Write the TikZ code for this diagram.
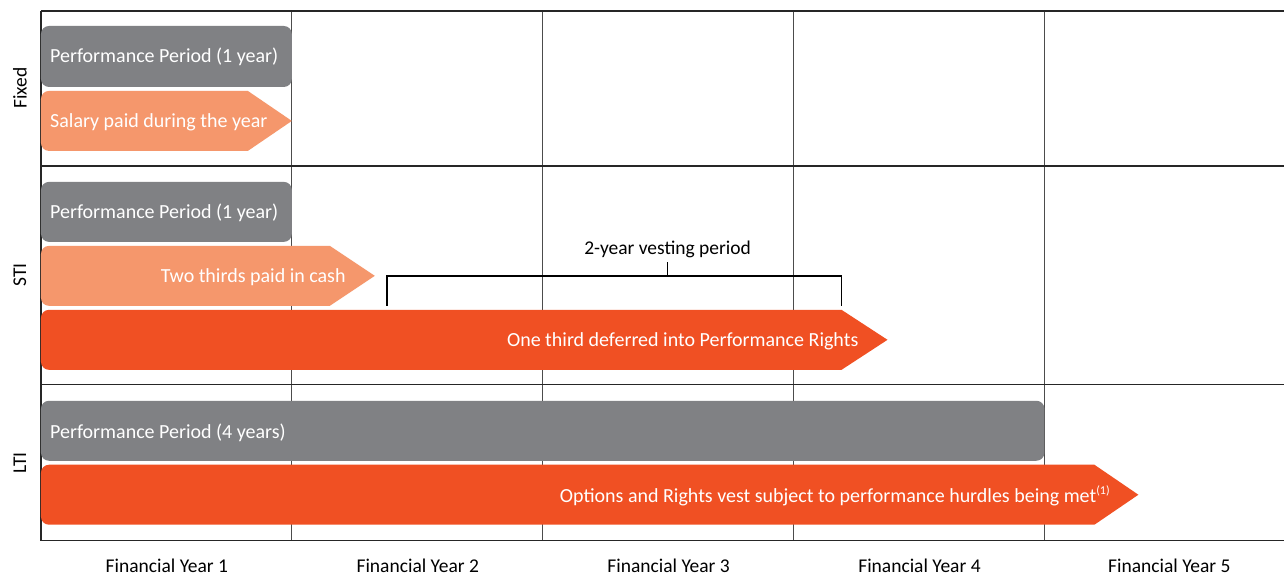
\documentclass[tikz,border=0pt]{standalone}
\usepackage{fontspec}
\setmainfont{Carlito}
\usetikzlibrary{calc}
\definecolor{perfgray}{HTML}{808184}
\definecolor{cashorange}{HTML}{F5976C}
\definecolor{deferorange}{HTML}{F05023}
\begin{document}
\begin{tikzpicture}[
  x=1pt,
  y=-1pt
]

  \tikzstyle{rowline}=[draw=black!85,line width=1.4pt]
  \tikzstyle{yearline}=[draw=black!70,line width=0.8pt]
  \tikzstyle{perfbar}=[fill=perfgray,rounded corners=8pt]
  \tikzstyle{bartext}=[text=white,inner sep=0pt,font=\fontsize{20}{24}\selectfont]
  \tikzstyle{rowlab}=[rotate=90,font=\fontsize{19.5}{23}\selectfont]
  \tikzstyle{yearlab}=[font=\fontsize{19.5}{23}\selectfont]
  \tikzstyle{bracket}=[draw=black,line width=1.6pt]

  % frame
  \fill[white] (0,0) rectangle (1285,573);

  % grid
  \coordinate (top) at (41,11);
  \coordinate (bot) at (41,541);
  \draw[yearline] (292,11) -- (292,541);
  \draw[yearline] (543,11) -- (543,541);
  \draw[yearline] (794,11) -- (794,541);
  \draw[yearline] (1045,11) -- (1045,541);
  \draw[rowline] (41,11) -- (1285,11);
  \draw[rowline] (41,166) -- (1285,166);
  \draw[rowline] (41,385) -- (1285,385);
  \draw[rowline] (41,541) -- (1285,541);
  \draw[rowline] (top) -- (bot);

  % row labels
  \node[rowlab] (fixed) at (20,88) {Fixed};
  \node[rowlab] (sti) at (20,275) {STI};
  \node[rowlab] (lti) at (20,463) {LTI};

  % year labels
  \node[yearlab] (fy1) at (167,566) {Financial Year 1};
  \node[yearlab] (fy2) at (418,566) {Financial Year 2};
  \node[yearlab] (fy3) at (669,566) {Financial Year 3};
  \node[yearlab] (fy4) at (920,566) {Financial Year 4};
  \node[yearlab] (fy5) at (1170,566) {Financial Year 5};

  % fixed
  \fill[perfbar] (41,26) rectangle (292,87);
  \node[bartext,anchor=west] (fixperf) at (50,57) {Performance Period (1 year)};
  \fill[cashorange] (292,121) -- (248,91) [rounded corners=8pt] -- (41,91) -- (41,151) [sharp corners] -- (248,151) -- cycle;
  \node[bartext,anchor=west] (salary) at (50,122) {Salary paid during the year};

  % sti
  \fill[perfbar] (41,182) rectangle (292,242);
  \node[bartext,anchor=west] (stiperf) at (50,213) {Performance Period (1 year)};
  \fill[cashorange] (375,276) -- (330,246) [rounded corners=8pt] -- (41,246) -- (41,306) [sharp corners] -- (330,306) -- cycle;
  \node[bartext,anchor=east] (cash) at (346,277) {Two thirds paid in cash};
  \fill[deferorange] (888,340) -- (842,310) [rounded corners=8pt] -- (41,310) -- (41,370) [sharp corners] -- (842,370) -- cycle;
  \node[bartext,anchor=east] (defer) at (859,341) {One third deferred into Performance Rights};

  % vesting bracket
  \node[yearlab] (vest) at (668,250) {2-year vesting period};
  \coordinate (vestL) at (387,306);
  \coordinate (vestR) at (842,306);
  \draw[bracket] (vestL) -- ++(0,-30) -| (vestR);
  \draw[bracket] (668,276) -- (vest.south);

  % lti
  \fill[perfbar] (41,401) rectangle (1045,461);
  \node[bartext,anchor=west] (ltiperf) at (50,433) {Performance Period (4 years)};
  \fill[deferorange] (1139,495) -- (1095,465) [rounded corners=8pt] -- (41,465) -- (41,525) [sharp corners] -- (1095,525) -- cycle;
  \node[bartext,anchor=east] (options) at (1111,496) {Options and Rights vest subject to performance hurdles being met\textsuperscript{\fontsize{12}{14}\selectfont(1)}};

\end{tikzpicture}
\end{document}
